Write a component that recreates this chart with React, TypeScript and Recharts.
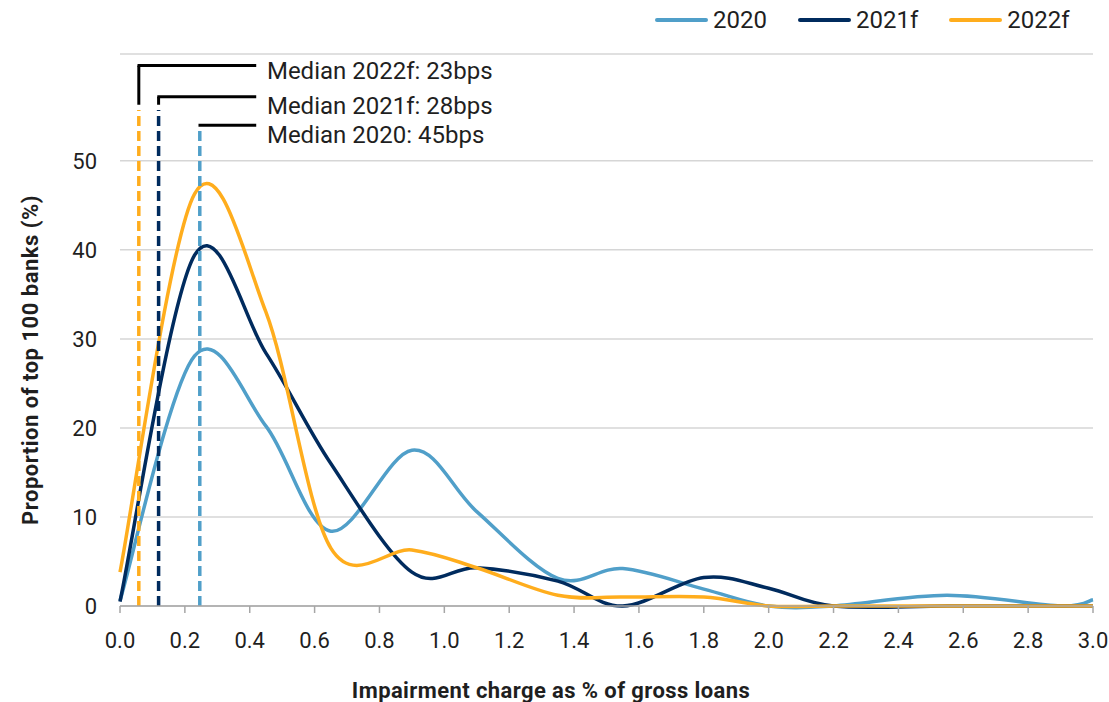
import React from 'react';
import {
  LineChart,
  Line,
  XAxis,
  YAxis,
  CartesianGrid,
  Legend,
  ReferenceLine,
  ReferenceDot,
  Label,
} from 'recharts';

// Impairment charge buckets (% of gross loans)
const chargeBuckets = [0, 0.23, 0.45, 0.65, 0.9, 1.1, 1.35, 1.55, 1.8, 2.0, 2.2, 2.55, 2.9, 3.0];

// Proportion of top 100 banks (%) in each bucket
const share2020 = [0.6, 28.1, 20.2, 8.4, 17.5, 10.6, 3.1, 4.2, 1.9, 0, 0, 1.2, 0, 0.7];
const share2021f = [0.5, 39.4, 28.4, 16.0, 3.8, 4.3, 2.8, 0, 3.2, 2.0, 0, 0, 0, 0];
const share2022f = [3.8, 46.3, 33.0, 6.5, 6.3, 4.3, 1.2, 1.0, 1.0, 0, 0, 0, 0, 0];

const seriesKeys = ['s2020', 's2021f', 's2022f'];
const seriesNames = ['2020', '2021f', '2022f'];
const seriesColors = ['#509FC9', '#002B5E', '#FFAD1D'];

const xTicks = [0, 0.2, 0.4, 0.6, 0.8, 1.0, 1.2, 1.4, 1.6, 1.8, 2.0, 2.2, 2.4, 2.6, 2.8, 3.0];
const yTicks = [0, 10, 20, 30, 40, 50];

// Median callouts
const medianYears = ['2022f', '2021f', '2020'];
const medianBps = [23, 28, 45];

const rows = chargeBuckets.map((x, i) => ({
  x,
  s2020: share2020[i],
  s2021f: share2021f[i],
  s2022f: share2022f[i],
}));

// Callout geometry, in axis units
const calloutColors = ['#FFAD1D', '#002B5E', '#509FC9'];
const markerX = [0.058, 0.119, 0.246];
const dashTop = [55.7, 55.7, 53.9];
const elbowBottom = [56.3, 56.3, 54.0];
const elbowTop = [60.7, 57.2, 54.0];
const elbowEndX = 0.42;
const calloutTextX = 0.453;
const calloutTextY = [60.1, 56.2, 52.9];

const FONT = 'Roboto, "Noto Sans", sans-serif';
const TEXT = '#1f1f1f';

// Smoothed line in the style of spreadsheet charts: cubic Bezier through every
// point, control handles at one sixth of the neighbour-to-neighbour chord.
const smoothCurve = (context: any) => {
  let pts: number[][] = [];
  return {
    areaStart() {},
    areaEnd() {},
    lineStart() {
      pts = [];
    },
    point(x: number, y: number) {
      pts.push([+x, +y]);
    },
    lineEnd() {
      const n = pts.length;
      if (!n) return;
      context.moveTo(pts[0][0], pts[0][1]);
      for (let i = 0; i < n - 1; i++) {
        const p0 = pts[i - 1] || pts[i];
        const p1 = pts[i];
        const p2 = pts[i + 1];
        const p3 = pts[i + 2] || p2;
        context.bezierCurveTo(
          p1[0] + (p2[0] - p0[0]) / 6,
          p1[1] + (p2[1] - p0[1]) / 6,
          p2[0] - (p3[0] - p1[0]) / 6,
          p2[1] - (p3[1] - p1[1]) / 6,
          p2[0],
          p2[1],
        );
      }
    },
  };
};

const LegendContent = () => (
  <div style={{ display: 'flex', alignItems: 'center', height: 30, gap: 31, fontFamily: FONT }}>
    {seriesNames.map((name, i) => (
      <div key={name} style={{ display: 'flex', alignItems: 'center', height: 24 }}>
        <span
          style={{
            display: 'inline-block',
            width: 53,
            height: 4,
            borderRadius: 2,
            background: seriesColors[i],
            marginRight: 5,
          }}
        />
        <span style={{ fontSize: 24, color: TEXT, lineHeight: '24px' }}>{name}</span>
      </div>
    ))}
  </div>
);

export default function App() {
  return (
    <div style={{ position: 'absolute', left: 0, top: 0, width: 1109, height: 702, background: '#fff' }}>
      <LineChart
        width={1109}
        height={702}
        data={rows}
        margin={{ top: 24, right: 16, bottom: 0, left: 0 }}
        style={{ fontFamily: FONT }}
      >
        <CartesianGrid horizontal vertical={false} stroke="#d6d6d6" strokeWidth={1.5} />
        <XAxis
          dataKey="x"
          type="number"
          domain={[0, 3]}
          ticks={xTicks}
          interval={0}
          tickFormatter={(v: number) => v.toFixed(1)}
          height={96}
          tickSize={7}
          tickMargin={19}
          stroke="#a6a6a6"
          strokeWidth={1.5}
          tick={{ fill: TEXT, fontSize: 22, fontFamily: FONT }}
        >
          <Label
            content={(props: any) => {
              const vb = props.viewBox;
              return (
                <text
                  x={551}
                  y={vb.y + 92}
                  textAnchor="middle"
                  fontSize={22}
                  fontWeight={700}
                  letterSpacing={0.4}
                  fill={TEXT}
                  fontFamily={FONT}
                >
                  Impairment charge as % of gross loans
                </text>
              );
            }}
          />
        </XAxis>
        <YAxis
          type="number"
          domain={[0, 62]}
          ticks={yTicks}
          width={120}
          axisLine={false}
          tickLine={false}
          tickSize={0}
          tickMargin={23}
          tick={{ fill: TEXT, fontSize: 22, fontFamily: FONT }}
        >
          <Label
            content={(props: any) => {
              const vb = props.viewBox;
              const cx = vb.x + 30;
              const cy = 360;
              return (
                <text
                  x={cx}
                  y={cy}
                  transform={`rotate(-90 ${cx} ${cy})`}
                  textAnchor="middle"
                  dominantBaseline="central"
                  fontSize={22}
                  fontWeight={700}
                  letterSpacing={0.5}
                  fill={TEXT}
                  fontFamily={FONT}
                >
                  Proportion of top 100 banks (%)
                </text>
              );
            }}
          />
        </YAxis>
        <Legend
          verticalAlign="top"
          align="left"
          height={30}
          wrapperStyle={{ top: 5, left: 655, width: 450 }}
          content={<LegendContent />}
        />
        {seriesKeys.map((k, i) => (
          <Line
            key={k}
            dataKey={k}
            name={seriesNames[i]}
            type={smoothCurve as any}
            stroke={seriesColors[i]}
            strokeWidth={3.5}
            dot={false}
            activeDot={false}
            isAnimationActive={false}
          />
        ))}
        {medianYears.map((year, i) => (
          <ReferenceLine
            key={`dash-${year}`}
            segment={[
              { x: markerX[i], y: 0 },
              { x: markerX[i], y: dashTop[i] },
            ]}
            stroke={calloutColors[i]}
            strokeWidth={3.5}
            strokeDasharray="10 5"
            ifOverflow="visible"
          />
        ))}
        {medianYears.map((year, i) =>
          elbowTop[i] > elbowBottom[i] ? (
            <ReferenceLine
              key={`elbow-v-${year}`}
              segment={[
                { x: markerX[i], y: elbowBottom[i] },
                { x: markerX[i], y: elbowTop[i] },
              ]}
              stroke="#000"
              strokeWidth={3}
              ifOverflow="visible"
            />
          ) : null,
        )}
        {medianYears.map((year, i) => (
          <ReferenceLine
            key={`elbow-h-${year}`}
            segment={[
              { x: markerX[i] - 0.004, y: elbowTop[i] },
              { x: elbowEndX, y: elbowTop[i] },
            ]}
            stroke="#000"
            strokeWidth={3}
            ifOverflow="visible"
          />
        ))}
        {medianYears.map((year, i) => (
          <ReferenceDot
            key={`text-${year}`}
            x={calloutTextX}
            y={calloutTextY[i]}
            r={0}
            fill="none"
            stroke="none"
            ifOverflow="visible"
            label={(props: any) => {
              const vb = props.viewBox;
              return (
                <text
                  x={vb.x}
                  y={vb.y}
                  dominantBaseline="central"
                  fontSize={24}
                  fill={TEXT}
                  fontFamily={FONT}
                >
                  {`Median ${year}: ${medianBps[i]}bps`}
                </text>
              );
            }}
          />
        ))}
      </LineChart>
    </div>
  );
}
